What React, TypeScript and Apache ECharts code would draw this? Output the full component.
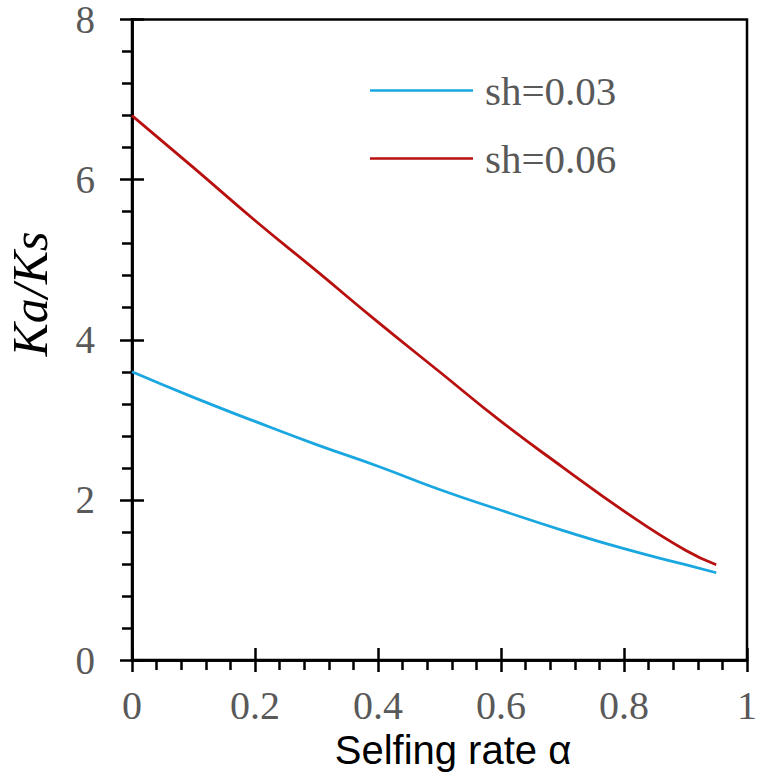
import React, { useEffect, useRef } from "react";
import * as echarts from "echarts";

const alpha = [0, 0.1, 0.2, 0.3, 0.4, 0.5, 0.6, 0.7, 0.8, 0.9, 0.95];
const sh003 = [3.6, 3.28, 2.98, 2.69, 2.42, 2.13, 1.87, 1.62, 1.39, 1.19, 1.09];
const sh006 = [6.8, 6.15, 5.49, 4.86, 4.22, 3.6, 2.98, 2.41, 1.86, 1.37, 1.19];
const seriesNames = ["sh=0.03", "sh=0.06"];
const xTitle = "Selfing rate α";
const yTitle = "Ka/Ks";

const serif = '"Liberation Serif", "Times New Roman", serif';
const sans = '"Liberation Sans", Arial, sans-serif';
const gray = "#595959";

export default function App() {
  const ref = useRef<HTMLDivElement>(null);
  useEffect(() => {
    if (!ref.current) return;
    const chart = echarts.init(ref.current, undefined, { renderer: "svg" });
    const pairs = (ys: number[]) => alpha.map((a, i) => [a, ys[i]]);
    const axisLine = { show: true, lineStyle: { color: "#000", width: 2.5 } };
    chart.setOption({
      animation: false,
      backgroundColor: "#fff",
      grid: {
        left: 132,
        right: 6,
        top: 17,
        bottom: 116,
        show: true,
        borderColor: "#000",
        borderWidth: 2.5,
      },
      legend: {
        orient: "vertical",
        left: 370,
        top: 70,
        padding: 0,
        itemGap: 27,
        itemWidth: 103,
        itemHeight: 2.5,
        icon: "rect",
        data: seriesNames,
        textStyle: {
          fontFamily: serif,
          fontSize: 41,
          color: gray,
          lineHeight: 40,
          padding: [0, 0, 0, 7],
        },
      },
      xAxis: [
        {
          type: "value",
          min: 0,
          max: 1,
          interval: 0.2,
          axisLine,
          splitLine: { show: false },
          axisTick: { show: true, inside: false, length: 12, lineStyle: { color: "#000", width: 2.5 } },
          minorTick: { show: true, splitNumber: 5, length: 10, lineStyle: { color: "#000", width: 2.5 } },
          axisLabel: {
            margin: 28,
            fontFamily: serif,
            fontSize: 40,
            lineHeight: 34,
            color: gray,
            formatter: (v: number) => String(+v.toFixed(1)),
          },
        },
        {
          type: "value",
          min: 0,
          max: 1,
          interval: 0.2,
          position: "bottom",
          offset: 0,
          axisLine,
          splitLine: { show: false },
          axisTick: { show: true, inside: true, length: 12, lineStyle: { color: "#000", width: 2.5 } },
          axisLabel: { show: false },
        },
      ],
      yAxis: [
        {
          type: "value",
          min: 0,
          max: 8,
          interval: 2,
          axisLine,
          splitLine: { show: false },
          axisTick: { show: true, inside: false, length: 12, lineStyle: { color: "#000", width: 2.5 } },
          minorTick: { show: true, splitNumber: 5, length: 10, lineStyle: { color: "#000", width: 2.5 } },
          axisLabel: {
            margin: 37,
            fontFamily: serif,
            fontSize: 39,
            lineHeight: 30,
            color: gray,
          },
        },
        {
          type: "value",
          min: 0,
          max: 8,
          interval: 2,
          position: "left",
          offset: 0,
          axisLine,
          splitLine: { show: false },
          axisTick: { show: true, inside: true, length: 12, lineStyle: { color: "#000", width: 2.5 } },
          axisLabel: { show: false },
        },
      ],
      graphic: [
        {
          type: "text",
          x: 30,
          y: 294,
          rotation: Math.PI / 2,
          style: {
            text: yTitle,
            font: `italic 50px ${serif}`,
            fill: "#000",
            textAlign: "center",
            textVerticalAlign: "middle",
          },
        },
        {
          type: "text",
          x: 453,
          y: 750,
          style: {
            text: xTitle,
            font: `40px ${sans}`,
            fill: "#000",
            textAlign: "center",
            textVerticalAlign: "middle",
          },
        },
      ],
      series: [
        {
          name: seriesNames[0],
          type: "line",
          data: pairs(sh003),
          smooth: true,
          showSymbol: false,
          color: "#1AA7E0",
          lineStyle: { width: 2.8, color: "#1AA7E0" },
        },
        {
          name: seriesNames[1],
          type: "line",
          data: pairs(sh006),
          smooth: true,
          showSymbol: false,
          color: "#B80F0F",
          lineStyle: { width: 2.8, color: "#B80F0F" },
        },
      ],
    });
    return () => chart.dispose();
  }, []);
  return <div ref={ref} style={{ width: 760, height: 776, position: "absolute", left: 0, top: 0 }} />;
}
